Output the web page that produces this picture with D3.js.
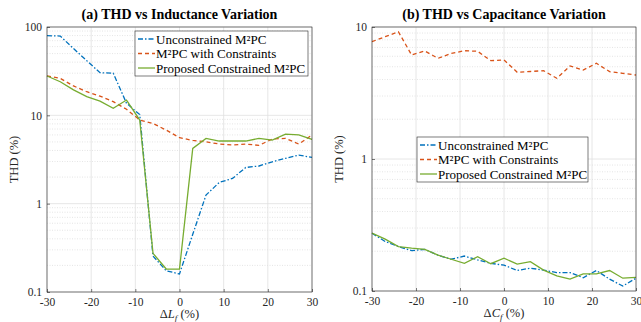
<!DOCTYPE html>
<html>
<head>
<meta charset="utf-8">
<script src="https://cdn.jsdelivr.net/npm/d3@7"></script>
<style>
  body { margin: 0; background: #fff; }
  svg { display: block; }
  svg text { font-family: "Liberation Serif", "Times New Roman", serif; }
</style>
</head>
<body>
<svg id="chart" width="641" height="322"></svg>
<script>
// x values shared by both panels (% variation)
const deltas = [-30, -27, -24, -21, -18, -15, -12, -9, -6, -3, 0, 3, 6, 9, 12, 15, 18, 21, 24, 27, 30];
const xTicks = [-30, -20, -10, 0, 10, 20, 30];

// (a) inductance variation
const indUnconstrained = [79.7, 79, 57, 41.6, 30.4, 30, 13.7, 10.2, 0.255, 0.174, 0.16, 0.45, 1.25, 1.74, 1.93, 2.57, 2.67, 2.98, 3.26, 3.55, 3.34];
const indConstraints = [27.9, 26.2, 21.5, 18.5, 16.5, 14.3, 11.7, 8.85, 8.1, 6.8, 5.58, 5.2, 5.02, 4.73, 4.61, 4.73, 4.57, 5.39, 5.49, 4.73, 5.98];
const indProposed = [27.9, 24, 19.4, 16.3, 14.5, 12, 14.9, 8.85, 0.274, 0.182, 0.182, 4.22, 5.48, 5.12, 5.12, 5.12, 5.48, 5.25, 6.14, 6.0, 5.35];

// (b) capacitance variation
const capUnconstrained = [0.274, 0.237, 0.217, 0.202, 0.207, 0.187, 0.174, 0.184, 0.172, 0.162, 0.157, 0.143, 0.149, 0.144, 0.138, 0.138, 0.126, 0.143, 0.123, 0.109, 0.125];
const capConstraints = [7.74, 8.45, 9.2, 6.14, 6.58, 5.79, 6.3, 6.61, 6.55, 5.56, 5.62, 4.54, 4.6, 4.67, 4.09, 5.07, 4.72, 5.31, 4.59, 4.46, 4.33];
const capProposed = [0.274, 0.247, 0.217, 0.211, 0.207, 0.187, 0.174, 0.162, 0.182, 0.161, 0.177, 0.16, 0.167, 0.144, 0.13, 0.123, 0.135, 0.135, 0.143, 0.125, 0.127];

const seriesNames = ['Unconstrained M²PC', 'M²PC with Constraints', 'Proposed Constrained M²PC'];
const seriesColors = ['#0072BD', '#D95319', '#77AC30'];
const seriesDash = ['5,2,1.5,2', '4,3', null];

const svg = d3.select('#chart');

function drawPanel(cfg) {
    const { left, right, top, bottom, yDomain, series, title, xLabel, legend } = cfg;

    const x = d3.scaleLinear().domain([-30, 30]).range([left, right]);
    const y = d3.scaleLog().domain(yDomain).range([bottom, top]);

    const g = svg.append('g');

    // decades and minor values for grid
    const decades = [];
    for (let v = yDomain[0]; v <= yDomain[1] * 1.0001; v *= 10) decades.push(+v.toPrecision(3));
    const minors = [];
    decades.slice(0, -1).forEach(d => {
        for (let k = 2; k <= 9; k++) minors.push(d * k);
    });

    // minor grid (dotted)
    g.append('g')
        .selectAll('line')
        .data(minors)
        .join('line')
        .attr('x1', left).attr('x2', right)
        .attr('y1', d => y(d)).attr('y2', d => y(d))
        .attr('stroke', '#d4d4d4')
        .attr('stroke-width', 0.6)
        .attr('stroke-dasharray', '1,1.5');

    // major grid
    g.append('g')
        .selectAll('line')
        .data(decades)
        .join('line')
        .attr('x1', left).attr('x2', right)
        .attr('y1', d => y(d)).attr('y2', d => y(d))
        .attr('stroke', '#e0e0e0')
        .attr('stroke-width', 0.8);

    g.append('g')
        .selectAll('line')
        .data(xTicks)
        .join('line')
        .attr('x1', d => x(d)).attr('x2', d => x(d))
        .attr('y1', top).attr('y2', bottom)
        .attr('stroke', '#e0e0e0')
        .attr('stroke-width', 0.8);

    // lines
    const line = d3.line()
        .x((d, i) => x(deltas[i]))
        .y(d => y(d));

    series.forEach((vals, i) => {
        g.append('path')
            .datum(vals)
            .attr('fill', 'none')
            .attr('stroke', seriesColors[i])
            .attr('stroke-width', 1.3)
            .attr('stroke-dasharray', seriesDash[i])
            .attr('d', line);
    });

    // axes (ticks inward, box)
    const xAxis = g.append('g')
        .attr('transform', `translate(0,${bottom})`)
        .call(d3.axisBottom(x).tickValues(xTicks).tickSize(-3).tickPadding(6).tickFormat(d => String(d)));

    const yAxis = g.append('g')
        .attr('transform', `translate(${left},0)`)
        .call(d3.axisLeft(y).tickValues(decades).tickSize(-3).tickPadding(5).tickFormat(d => String(d)));

    [xAxis, yAxis].forEach(a => {
        a.attr('font-family', null).attr('font-size', null);
        a.select('.domain').remove();
        a.selectAll('.tick line').attr('stroke', '#262626').attr('stroke-width', 0.6);
        a.selectAll('.tick text').style('font-size', '11.5px').attr('fill', '#262626');
    });

    g.append('rect')
        .attr('x', left).attr('y', top)
        .attr('width', right - left).attr('height', bottom - top)
        .attr('fill', 'none')
        .attr('stroke', '#262626')
        .attr('stroke-width', 0.6);

    // title
    g.append('text')
        .attr('x', (left + right) / 2)
        .attr('y', top - 8)
        .attr('text-anchor', 'middle')
        .style('font-size', '14px')
        .style('font-weight', 'bold')
        .style('fill', '#000')
        .text(title);

    // y label
    g.append('text')
        .attr('transform', `translate(${left - 29},${(top + bottom) / 2}) rotate(-90)`)
        .attr('text-anchor', 'middle')
        .style('font-size', '12.5px')
        .style('fill', '#262626')
        .text('THD (%)');

    // x label: Δ + italic variable with subscript
    const xl = g.append('text')
        .attr('x', (left + right) / 2)
        .attr('y', bottom + 26)
        .attr('text-anchor', 'middle')
        .style('font-size', '12.5px')
        .style('fill', '#262626');
    xl.append('tspan').text('Δ');
    xl.append('tspan').style('font-style', 'italic').text(xLabel);
    xl.append('tspan').style('font-style', 'italic').style('font-size', '9px').attr('dy', 3).text('f');
    xl.append('tspan').attr('dy', -3).text(' (%)');

    // legend
    const lg = g.append('g').attr('transform', `translate(${legend.x},${legend.y})`);
    lg.append('rect')
        .attr('width', legend.w).attr('height', 45)
        .attr('fill', '#fff')
        .attr('stroke', '#262626')
        .attr('stroke-width', 0.6);
    seriesNames.forEach((name, i) => {
        const ry = 8 + i * 14.5;
        lg.append('line')
            .attr('x1', 3).attr('x2', 20)
            .attr('y1', ry).attr('y2', ry)
            .attr('stroke', seriesColors[i])
            .attr('stroke-width', 1.3)
            .attr('stroke-dasharray', seriesDash[i]);
        lg.append('text')
            .attr('x', 21).attr('y', ry + 4.5)
            .style('font-size', '13px')
            .style('fill', '#000')
            .text(name);
    });
}

drawPanel({
    left: 47, right: 312, top: 27, bottom: 292,
    yDomain: [0.1, 100],
    series: [indUnconstrained, indConstraints, indProposed],
    title: '(a) THD vs Inductance Variation',
    xLabel: 'L',
    legend: { x: 135, y: 31, w: 173 }
});

drawPanel({
    left: 372, right: 636, top: 27, bottom: 291,
    yDomain: [0.1, 10],
    series: [capUnconstrained, capConstraints, capProposed],
    title: '(b) THD vs Capacitance Variation',
    xLabel: 'C',
    legend: { x: 417, y: 137, w: 171 }
});
</script>
</body>
</html>
